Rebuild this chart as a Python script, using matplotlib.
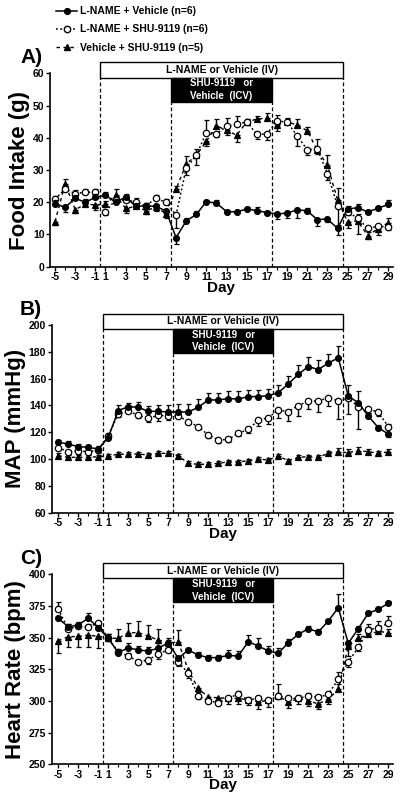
import numpy as np
import matplotlib
matplotlib.use("Agg")
import matplotlib.pyplot as plt
from matplotlib.lines import Line2D
from matplotlib.patches import Rectangle

plt.rcParams['font.family'] = ['Liberation Sans', 'DejaVu Sans']
plt.rcParams['font.weight'] = 'bold'

days = [-5, -4, -3, -2, -1] + list(range(1, 30))
tick_days = [-5, -3, -1, 1, 3, 5, 7, 9, 11, 13, 15, 17, 19, 21, 23, 25, 27, 29]

series_labels = ["L-NAME + Vehicle (n=6)", "L-NAME + SHU-9119 (n=6)", "Vehicle + SHU-9119 (n=5)"]

# Panel A: Food intake (g)
fi_ln_veh = [19.6, 18.4, 21.2, 20.0, 21.5, 22.2, 20.0, 21.6, 18.7, 18.9, 18.7, 17.3,
             9.0, 14.2, 16.2, 20.2, 19.7, 17.1, 17.0, 17.9, 17.4, 16.8,
             16.4, 16.6, 17.7, 17.3, 14.6, 14.8, 11.9, 17.9, 18.3, 17.0, 18.1, 19.3]
fi_ln_veh_err = [1, -1.5, 1, 1, 1, 1, 1, 1, 1, 1, -1.5, -1.5,
                 -2, 1, 1, 0.5, 1, 0.5, 0.5, 0.5, 1, 0.5,
                 -1.5, -1.5, -2.5, 1, -2, -1, -2, 1, 1, 0.5, 0.5, 1.5]
fi_ln_shu = [21.0, 24.1, 22.7, 23.1, 23.1, 17.0, 20.8, 20.6, 20.2, 18.9, 21.2, 20.0,
             16.0, 30.6, 34.5, 41.6, 41.2, 43.5, 44.2, 44.9, 41.1, 41.2,
             45.2, 44.9, 40.6, 36.3, 36.5, 28.9, 18.9, 17.1, 15.0, 11.9, 12.5, 12.4]
fi_ln_shu_err = [1, 1, 1, 1, 1, -1, 1, 1, 1, 1, 1, 1,
                 -4, -2, 2, 4, -1, 2.5, 2.5, 1, -1.5, -2,
                 2, 1, -3, -1.5, 3, -2, -6, -1, -5, -1, -1.5, -1]
fi_veh_shu = [14.0, 25.7, 17.7, 19.4, 19.2, 19.4, 22.2, 18.1, 18.7, 17.4, 18.4, 16.5,
              24.1, 31.9, 34.5, 38.9, 43.7, 42.3, 40.8, 44.9, 45.8, 46.1,
              44.0, 45.0, 43.9, 42.2, 36.1, 31.5, 20.8, 13.9, 14.2, 9.6, 11.8, 13.6]
fi_veh_shu_err = [-1, 1.5, -1, 1, -1.5, 1, 2, -1.5, 1, -1, 1, -1.5,
                  1, 2.5, -3, -1.5, 2, -1.5, -2, 1, 1, 1.5,
                  -2, 1, 2, 1, -1, 3, 3.5, -2, 2, -1, -2, 1.5]

# Panel B: MAP (mmHg)
map_ln_veh = [112.7, 111.2, 109.3, 108.8, 107.5, 116.0, 136.1, 139.1, 138.6, 135.6, 135.6, 135.1,
              135.1, 135.1, 138.6, 144.1, 144.1, 145.1, 144.8, 146.6, 146.6, 147.3,
              149.5, 156.0, 163.2, 169.0, 166.8, 171.5, 175.6, 147.0, 142.0, 132.1, 123.4, 118.7]
map_ln_veh_err = [1.5, 2, 2, 2, 2, 3, 4, 3, 4, 4, 5, 5,
                  6, 6, 6, 5, 5, 6, 6, 5, 5, 5,
                  6, 6, 7, 7, 7, 7, 9, 8, 9, 2, 2, -2]
map_ln_shu = [108.5, 105.5, 106.0, 105.5, 106.5, 117.2, 133.6, 136.1, 132.6, 130.4, 132.6, 132.4,
              132.4, 127.9, 124.2, 118.0, 114.2, 114.7, 119.2, 122.2, 128.9, 130.9,
              136.6, 135.4, 139.9, 143.3, 143.3, 145.8, 143.6, 145.3, 139.1, 137.6, 134.9, 124.2]
map_ln_shu_err = [-2, -2, -2, -2, -2, 2, -2, -2, -2, -3, -4, -3,
                  -2, -2, -2, -2, -2, -2, -2, -3, -4, -5,
                  -6, -7, -8, -6, -8, -6, -14, -12, -17, -3, -3, 2]
map_veh_shu = [102.5, 101.3, 101.3, 101.3, 101.8, 102.5, 103.5, 103.8, 103.8, 103.0, 104.3, 104.3,
               102.5, 96.8, 96.1, 96.1, 96.8, 98.0, 97.8, 98.8, 100.0, 99.3,
               102.3, 98.8, 101.3, 101.8, 101.3, 104.3, 105.3, 104.8, 106.3, 105.5, 104.3, 105.3]
map_veh_shu_err = [2, 1.5, 1.5, 1.5, 1.5, 1.5, 1.5, 1.5, 1.5, 1.5, 1.5, 1.5,
                   1.5, 1.5, 1.5, 1.5, 1.5, 1.5, 1.5, 1.5, 1.5, 1.5,
                   1.5, 1.5, 2, 1.5, 1.5, 2, 3, 2.5, 3, 2, 2, 2]

# Panel C: Heart rate (bpm)
hr_ln_veh = [365.3, 358.6, 360.0, 365.3, 357.9, 349.5, 338.1, 342.0, 340.2, 339.5, 341.6, 346.0,
             333.7, 340.2, 336.3, 334.2, 334.3, 336.0, 335.4, 346.8, 343.4, 339.5,
             337.6, 346.0, 352.6, 357.1, 354.5, 363.1, 373.6, 345.5, 357.1, 369.2, 372.4, 377.1]
hr_ln_veh_err = [2, 2, 2, 4.5, 2, 3, 2, 4, 3, 3, 4, 2,
                 2, 2, 2, 2, 2, 4, 4, 5, 6, 4,
                 4, 3, 2, 2, 2, 2, 11, -3, 2, 2, 2, 2]
hr_ln_shu = [372.4, 357.0, 358.8, 358.6, 361.4, 349.5, 339.0, 335.5, 331.0, 332.3, 337.3, 340.2,
             331.0, 321.8, 303.9, 300.2, 298.6, 302.0, 305.5, 300.9, 302.0, 300.4,
             304.0, 302.0, 302.0, 304.0, 302.9, 305.2, 317.1, 330.8, 342.4, 356.0, 358.0, 361.3]
hr_ln_shu_err = [6, 4, 3, 2, 2, 3, 2, 2, -2, -3, -4, 2,
                 -3, -4, -2, -2, -2, 2, 2, 2, 2, 2,
                 2, 2, 3, 2, 2, 2, 6, -4, -3, 5, 5, 6]
hr_veh_shu = [347.6, 350.7, 351.0, 352.0, 351.0, 349.5, 349.5, 353.9, 353.9, 351.3, 348.1, 345.5,
              346.8, 324.4, 310.0, 302.9, 302.6, 302.0, 302.0, 300.9, 299.4, 300.4,
              304.2, 298.8, 302.0, 300.0, 297.8, 301.3, 309.2, 343.4, 349.5, 352.6, 355.0, 353.9]
hr_veh_shu_err = [-10, -8, -8, -9, -9, 3, 7, 8, 9, 9, 9, 4,
                  9, -4, -3, -3, -3, -4, -4, -4, -6, -5,
                  9, -4, -4, -4, -4, -4, 4, -8, 3, 6, 4, 3]

panels = [
    dict(letter="A)", ylabel="Food Intake (g)", ylim=(0, 60), yticks=np.arange(0, 61, 10),
         data=[(fi_ln_veh, fi_ln_veh_err), (fi_ln_shu, fi_ln_shu_err), (fi_veh_shu, fi_veh_shu_err)],
         rect_px=(50, 73.3, 393, 266.7), xlim=(-0.5, 33.5)),
    dict(letter="B)", ylabel="MAP (mmHg)", ylim=(60, 200), yticks=np.arange(60, 201, 20),
         data=[(map_ln_veh, map_ln_veh_err), (map_ln_shu, map_ln_shu_err), (map_veh_shu, map_veh_shu_err)],
         rect_px=(51.7, 325, 393.3, 512.7), xlim=(-0.65, 33.5)),
    dict(letter="C)", ylabel="Heart Rate (bpm)", ylim=(250, 400), yticks=np.arange(250, 401, 25),
         data=[(hr_ln_veh, hr_ln_veh_err), (hr_ln_shu, hr_ln_shu_err), (hr_veh_shu, hr_veh_shu_err)],
         rect_px=(51.7, 574.3, 393.3, 764.3), xlim=(-0.65, 33.5)),
]

W, H = 400, 799
fig = plt.figure(figsize=(W / 100, H / 100), dpi=100)

x = np.arange(len(days))
styles = [
    dict(color='black', marker='o', markerfacecolor='black', linestyle='-', markersize=4.2, lw=1.1),
    dict(color='black', marker='o', markerfacecolor='white', linestyle=(0, (1.2, 1.6)), markersize=4.6, lw=1.1),
    dict(color='black', marker='^', markerfacecolor='black', linestyle=(0, (2.5, 2.5)), markersize=4.4, lw=1.0),
]

def split_err(e):
    e = np.asarray(e, dtype=float)
    return [np.where(e < 0, -e, 0), np.where(e > 0, e, 0)]

def pos_between(d1, d2):
    return (days.index(d1) + days.index(d2)) / 2

lname_start = pos_between(-1, 1)
shu_start = pos_between(7, 8)
shu_end = pos_between(17, 18)
lname_end = pos_between(24, 25)

for p in panels:
    l, t, r, b = p['rect_px']
    ax = fig.add_axes([l / W, 1 - b / H, (r - l) / W, (b - t) / H])
    zorders = [5, 4, 3]
    for (vals, err), st, z in zip(p['data'], styles, zorders):
        ax.errorbar(x, vals, yerr=split_err(err), color='black', ecolor='black',
                    elinewidth=1.0, capsize=1.8, capthick=1.0, zorder=z,
                    marker=st['marker'], markerfacecolor=st['markerfacecolor'],
                    markeredgecolor='black', markeredgewidth=0.9,
                    markersize=st['markersize'], linestyle=st['linestyle'], linewidth=st['lw'])
    ax.set_xlim(*p['xlim'])
    ax.set_ylim(*p['ylim'])
    ax.set_yticks(p['yticks'])
    ax.set_xticks([days.index(d) for d in tick_days])
    ax.set_xticklabels([str(d) for d in tick_days])
    ax.set_xticks(x, minor=True)
    for s in ['top', 'right']:
        ax.spines[s].set_visible(False)
    for s in ['left', 'bottom']:
        ax.spines[s].set_linewidth(1.2)
    ax.tick_params(axis='both', which='major', labelsize=7.5, length=3, width=1.0, pad=1)
    ax.tick_params(axis='x', which='minor', length=2, width=0.8)
    for lab in ax.get_xticklabels() + ax.get_yticklabels():
        lab.set_fontweight('bold')
    ax.set_xlabel("Day", fontsize=11, fontweight='bold', labelpad=-1)
    ax.set_ylabel(p['ylabel'], fontsize=16, fontweight='bold', labelpad=2)

    trans = ax.get_xaxis_transform()
    wb_lo, wb_hi = 0.978, 1.06
    bb_lo = 0.853
    for xv, top in [(lname_start, wb_lo), (lname_end, wb_lo), (shu_start, bb_lo), (shu_end, bb_lo)]:
        ax.plot([xv, xv], [0, top], transform=trans, color='black', lw=0.9,
                linestyle=(0, (3, 2)), clip_on=False, zorder=2)
    ax.add_patch(Rectangle((lname_start, wb_lo), lname_end - lname_start, wb_hi - wb_lo,
                           transform=trans, facecolor='white', edgecolor='black', lw=1.0,
                           clip_on=False, zorder=6))
    ax.text((lname_start + lname_end) / 2, (wb_lo + wb_hi) / 2, "L-NAME or Vehicle (IV)",
            transform=trans, ha='center', va='center', fontsize=7.5, fontweight='bold', zorder=7)
    ax.add_patch(Rectangle((shu_start, bb_lo), shu_end - shu_start, wb_lo - bb_lo,
                           transform=trans, facecolor='black', edgecolor='black', lw=1.0,
                           clip_on=False, zorder=6))
    ax.text((shu_start + shu_end) / 2, (bb_lo + wb_lo) / 2, "SHU-9119   or\nVehicle  (ICV)",
            transform=trans, ha='center', va='center', fontsize=7, fontweight='bold',
            color='white', zorder=7, linespacing=1.3)
    fig.text(20 / W, 1 - (t - 6) / H, p['letter'], fontsize=15, fontweight='bold',
             ha='left', va='bottom')

handles = [Line2D([], [], color='black', marker=st['marker'], markerfacecolor=st['markerfacecolor'],
                  markeredgecolor='black', markersize=st['markersize'], linestyle=st['linestyle'], lw=st['lw'])
           for st in styles]
fig.legend(handles, series_labels, loc='upper left', bbox_to_anchor=(52 / W, 1 - 2 / H),
           frameon=False, handlelength=2.0, handletextpad=0.3,
           labelspacing=0.8, borderaxespad=0, prop={'weight': 'bold', 'size': 7.5})

fig.savefig("out.png", dpi=100)
